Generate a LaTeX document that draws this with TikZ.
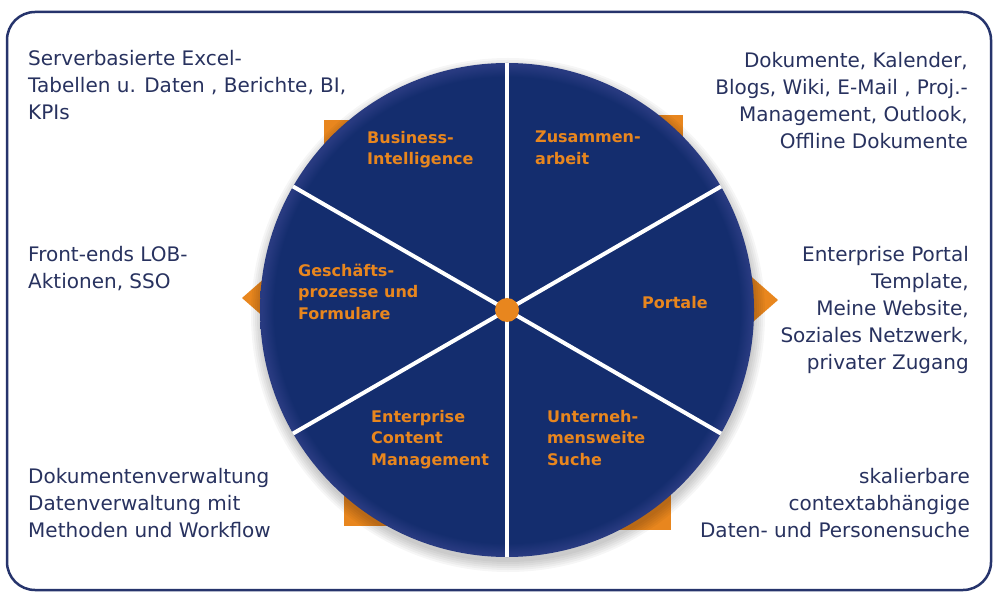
\documentclass[tikz,border=0pt]{standalone}
\usepackage{fontspec}
\setmainfont{DejaVu Sans}
\definecolor{discnavy}{RGB}{20,45,110}
\definecolor{discrim}{RGB}{40,58,128}
\definecolor{segorange}{RGB}{232,134,30}
\definecolor{txtblue}{RGB}{40,50,95}
\definecolor{framecol}{RGB}{38,52,108}
\pgfdeclareradialshading{rimshade}{\pgfpoint{0bp}{0bp}}{color(0bp)=(discnavy); color(23.6bp)=(discnavy); color(24.8bp)=(discrim); color(25bp)=(discrim); color(50bp)=(discrim)}
\begin{document}
\begin{tikzpicture}[x=1pt,y=-1pt,
  sidetext/.style={inner sep=0pt, text=txtblue, font=\fontsize{20pt}{27pt}\selectfont},
  seglabel/.style={inner sep=0pt, text=segorange, align=left, anchor=north west, font=\bfseries\fontsize{16pt}{21.5pt}\selectfont},
  tab/.style={fill=segorange, draw=none},
  divider/.style={draw=white, line width=4pt}]
\useasboundingbox (0,0) rectangle (995,593);
\fill[white] (0,0) rectangle (995,593);
\draw[framecol, line width=2.5pt, rounded corners=28pt] (7,12) rectangle (991,590);

% orange tabs behind the disc
\fill[tab] (324,120) rectangle (380,176);
\fill[tab] (627,115) rectangle (683,171);
\fill[tab] (344,470) rectangle (400,526);
\fill[tab] (615,474) rectangle (671,530);
\fill[tab] (242,298) -- (274,270) -- (274,326) -- cycle;
\fill[tab] (778,300) -- (746,272) -- (746,328) -- cycle;

% soft shadow
\foreach \r in {247,249,251,253,255,257}
  \fill[black, opacity=0.035] (508,315) circle (\r pt);

% disc
\node[circle, minimum size=494pt, inner sep=0pt, shade, shading=rimshade] (disc) at (507,310) {};
\draw[divider] (disc.90) -- (disc.270);
\draw[divider] (disc.30) -- (disc.210);
\draw[divider] (disc.150) -- (disc.330);
\node[circle, fill=segorange, minimum size=24pt, inner sep=0pt] (hub) at (disc.center) {};

% segment labels
\node[seglabel] (bi) at (367,130.8) {Business-\\Intelligence};
\node[seglabel] (zus) at (535,130.8) {Zusammen-\\arbeit};
\node[seglabel] (gp) at (298,263.8) {Geschäfts-\\prozesse und\\Formulare};
\node[seglabel] (por) at (642,295.8) {Portale};
\node[seglabel] (ecm) at (371,409.8) {Enterprise\\Content\\Management};
\node[seglabel] (such) at (547,409.8) {Unterneh-\\mensweite\\Suche};

% side texts
\node[sidetext, anchor=north west, align=left] (tl) at (28,49.8) {Serverbasierte Excel-\\Tabellen u. Daten , Berichte, BI,\\KPIs};
\node[sidetext, anchor=north east, align=right] (tr) at (968,51.8) {Dokumente, Kalender,\\Blogs, Wiki, E-Mail , Proj.-\\Management, Outlook,\\Offline Dokumente};
\node[sidetext, anchor=north west, align=left] (ml) at (28,245.8) {Front-ends LOB-\\Aktionen, SSO};
\node[sidetext, anchor=north east, align=right] (mr) at (969,245.8) {Enterprise Portal\\Template,\\Meine Website,\\Soziales Netzwerk,\\privater Zugang};
\node[sidetext, anchor=north west, align=left] (bl) at (28,467.8) {Dokumentenverwaltung\\Datenverwaltung mit\\Methoden und Workflow};
\node[sidetext, anchor=north east, align=right] (br) at (970,467.8) {skalierbare\\contextabhängige\\Daten- und Personensuche};
\end{tikzpicture}
\end{document}
